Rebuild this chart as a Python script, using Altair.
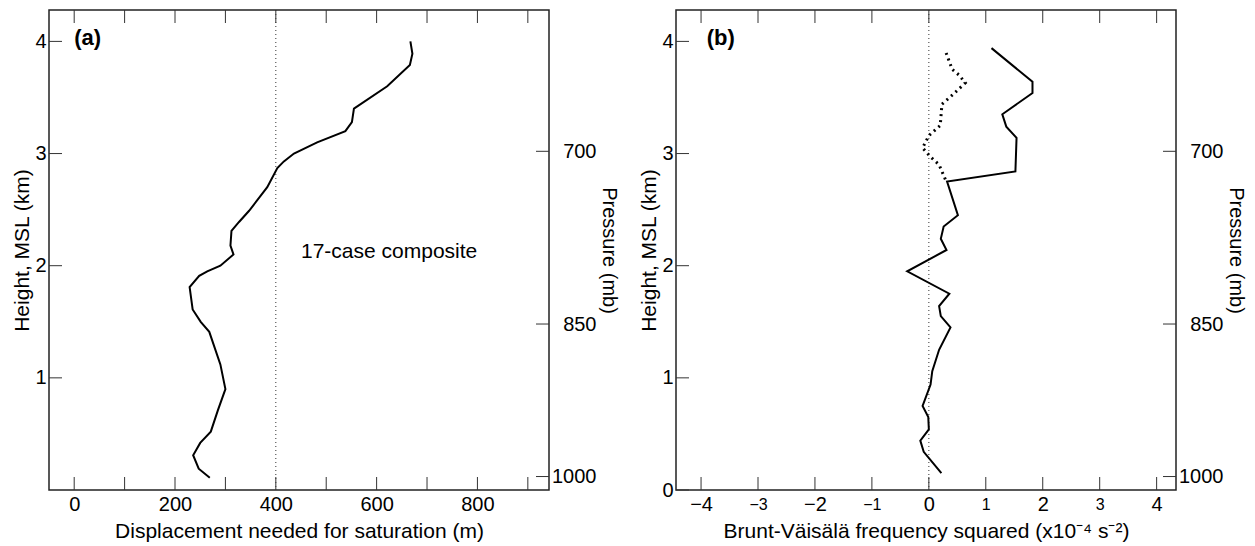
import altair as alt
import pandas as pd

# ---------------- data ----------------
# Panel (a): displacement needed for saturation (m) vs height (km)
a_disp = [269, 247, 236, 250, 271, 285, 300, 290, 268, 251, 235, 229, 248, 264, 290, 316,
          310, 312, 327, 347, 383, 403, 416, 436, 482, 538, 551, 555, 621, 666, 671, 667]
a_km = [0.11, 0.19, 0.31, 0.42, 0.52, 0.71, 0.90, 1.12, 1.41, 1.50, 1.61, 1.81, 1.91, 1.95, 2.00, 2.10,
        2.18, 2.31, 2.39, 2.49, 2.70, 2.87, 2.93, 3.00, 3.10, 3.20, 3.28, 3.40, 3.60, 3.79, 3.89, 4.00]

# Panel (b): Brunt-Vaisala frequency squared, solid curve
b_n2 = [0.22, -0.09, -0.15, 0.00, -0.01, -0.11, 0.03, 0.06, 0.18, 0.38, 0.21, 0.18, 0.36,
        -0.38, 0.31, 0.21, 0.26, 0.51, 0.32, 1.52, 1.54, 1.36, 1.29, 1.82, 1.82, 1.10]
b_km = [0.15, 0.34, 0.44, 0.54, 0.65, 0.75, 0.94, 1.06, 1.25, 1.45, 1.55, 1.64, 1.75,
        1.95, 2.14, 2.24, 2.35, 2.45, 2.75, 2.84, 3.14, 3.24, 3.35, 3.54, 3.64, 3.94]

# Panel (b): dotted curve
d_n2 = [0.29, 0.18, 0.03, -0.11, 0.00, 0.20, 0.23, 0.41, 0.64, 0.53, 0.41, 0.28]
d_km = [2.77, 2.90, 2.97, 3.05, 3.16, 3.25, 3.44, 3.52, 3.63, 3.70, 3.75, 3.93]

# axes / ticks
a_xticks = [0, 100, 200, 300, 400, 500, 600, 700, 800, 900]
a_xlabels = [0, 200, 400, 600, 800]
b_xticks = [-4, -3, -2, -1, 0, 1, 2, 3, 4]
a_yticks = [1, 2, 3, 4]
b_yticks = [0, 1, 2, 3, 4]
pressure_labels = ["700", "850", "1000"]
pressure_km = [3.02, 1.48, 0.12]
a_ref = [400]
b_ref = [0]

a_domain = [-50, 942]
b_domain = [-4.44, 4.34]
km_domain = [0, 4.28]

FONT = "Liberation Sans"
W, H = 500, 480
TICK = 13


def panel(line_layers, x_field, x_domain, x_title, x_ticks, x_labels, y_ticks, ref, tag, tag_x,
          note=None, x_label_size=20):
    xs = alt.Scale(domain=x_domain, nice=False, zero=False)
    ys = alt.Scale(domain=km_domain, nice=False, zero=False)

    xaxis = alt.Axis(values=x_labels, title=x_title, ticks=False, domain=False, grid=False,
                     labelFontSize=x_label_size, labelBaseline="middle", labelPadding=14,
                     titlePadding=6, labelFlush=False, labelOverlap=False, format="d")
    yaxis = alt.Axis(values=y_ticks, title="Height, MSL (km)", ticks=False, domain=False, grid=False,
                     labelFontSize=20, labelPadding=3, titlePadding=2, format="d",
                     labelFlush=False)
    X = lambda: alt.X(f"{x_field}:Q", scale=xs, axis=xaxis)
    Y = lambda: alt.Y("km:Q", scale=ys, axis=yaxis)

    layers = []
    # reference dotted line
    ref_df = pd.DataFrame({x_field: ref})
    layers.append(alt.Chart(ref_df).mark_rule(color="#333333", strokeWidth=1, strokeDash=[1, 3]).encode(
        x=X(), y=alt.value(0), y2=alt.value(H)))
    # curves
    for df, dash, width in line_layers:
        kw = dict(color="black", strokeWidth=width)
        if dash:
            kw["strokeDash"] = dash
        layers.append(alt.Chart(df).mark_line(**kw).encode(x=X(), y=Y(), order="i:Q"))
    # x ticks (top and bottom, inward)
    xt = pd.DataFrame({x_field: x_ticks})
    layers.append(alt.Chart(xt).mark_rule(color="#333333", strokeWidth=1).encode(
        x=X(), y=alt.value(H), y2=alt.value(H - TICK)))
    layers.append(alt.Chart(xt).mark_rule(color="#333333", strokeWidth=1).encode(
        x=X(), y=alt.value(0), y2=alt.value(TICK)))
    # y ticks (left, inward)
    yt = pd.DataFrame({"km": y_ticks})
    layers.append(alt.Chart(yt).mark_rule(color="#333333", strokeWidth=1).encode(
        y=Y(), x=alt.value(0), x2=alt.value(TICK)))
    # panel tag
    tag_df = pd.DataFrame({x_field: [tag_x], "km": [4.03], "t": [tag]})
    layers.append(alt.Chart(tag_df).mark_text(font=FONT, fontSize=22, fontWeight="bold", align="left",
                                              baseline="middle", color="black").encode(
        x=X(), y=Y(), text="t:N"))
    if note is not None:
        nx, ny, nt = note
        n_df = pd.DataFrame({x_field: [nx], "km": [ny], "t": [nt]})
        layers.append(alt.Chart(n_df).mark_text(font=FONT, fontSize=21, align="left",
                                                baseline="middle", color="black").encode(
            x=X(), y=Y(), text="t:N"))

    inner = alt.layer(*layers)

    # pressure axis on the right
    expr = "''"
    for h, p in zip(pressure_km, pressure_labels):
        expr = f"abs(datum.value - {h}) < 0.001 ? '{p}' : " + expr
    p_df = pd.DataFrame({"pkm": pressure_km})
    paxis = alt.Axis(orient="right", values=pressure_km, labelExpr=expr, title="Pressure (mb)",
                     ticks=False, domain=False, grid=False, labelFontSize=20, labelAlign="right",
                     labelPadding=47, titlePadding=2, titleFontSize=20, labelFlush=False)
    pres = alt.Chart(p_df).mark_rule(color="#333333", strokeWidth=1).encode(
        y=alt.Y("pkm:Q", scale=alt.Scale(domain=km_domain, nice=False, zero=False), axis=paxis),
        x=alt.value(W - TICK), x2=alt.value(W))

    return alt.layer(inner, pres).resolve_scale(y="independent").properties(width=W, height=H)


a_df = pd.DataFrame({"i": range(len(a_disp)), "disp": a_disp, "km": a_km})
b_df = pd.DataFrame({"i": range(len(b_n2)), "n2": b_n2, "km": b_km})
d_df = pd.DataFrame({"i": range(len(d_n2)), "n2": d_n2, "km": d_km})

odd_small = {"condition": {"test": "datum.value % 2 != 0", "value": 16}, "value": 20}

pa = panel([(a_df, None, 2)], "disp", a_domain, "Displacement needed for saturation (m)",
           a_xticks, a_xlabels, a_yticks, a_ref, "(a)", 0,
           note=(450, 2.12, "17-case composite"))
pb = panel([(b_df, None, 2), (d_df, [2, 4], 3)], "n2", b_domain,
           "Brunt-Väisälä frequency squared (x10⁻⁴ s⁻²)",
           b_xticks, b_xticks, b_yticks, b_ref, "(b)", -3.9, x_label_size=odd_small)

chart = alt.hconcat(pa, pb, spacing=19).properties(
    padding={"left": 3, "top": 0, "right": 0, "bottom": 0},
    background="white"
).configure_view(stroke="#222222", strokeWidth=1.5).configure_axis(
    labelFont=FONT, titleFont=FONT, labelColor="black", titleColor="black",
    titleFontSize=21, titleFontWeight="normal"
)

chart.save("out.html", embed_options={"renderer": "svg", "actions": False})
